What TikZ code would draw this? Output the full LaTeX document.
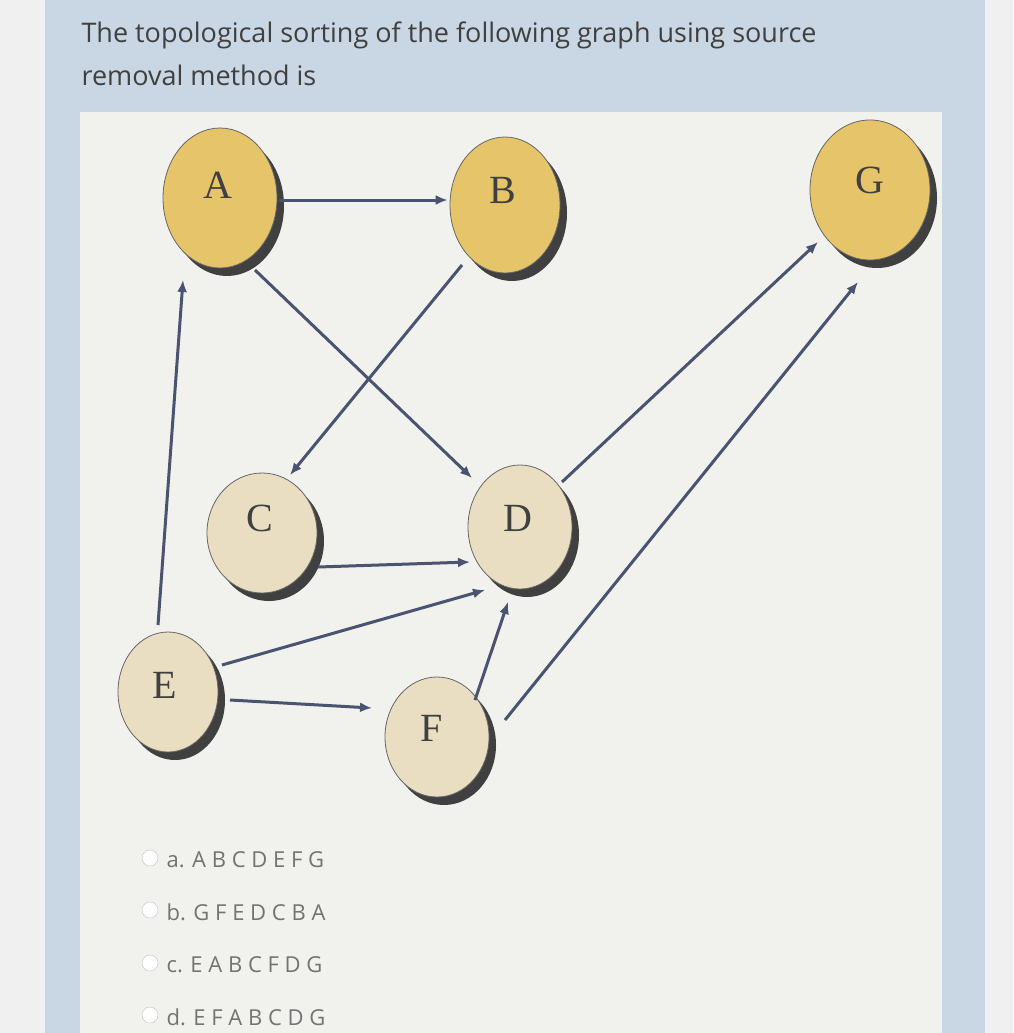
\documentclass[tikz,border=0pt]{standalone}
\usepackage{fontspec}
\setsansfont{Open Sans}
\setmainfont{Liberation Serif}
\begin{document}
\begin{tikzpicture}[x=1pt,y=-1pt,
  gold/.style={ellipse, fill=gold, draw=black!60, line width=0.8pt},
  beige/.style={ellipse, fill=beige, draw=black!60, line width=0.8pt},
  edge/.style={draw=edgec, line width=3pt, -{Latex[length=12pt,width=10pt]}},
  lab/.style={font=\fontsize{40}{40}\selectfont, text=black!75},
  opt/.style={font=\sffamily\fontsize{22}{22}\selectfont, text=black!55, anchor=west},
  radio/.style={circle, draw=black!25, fill=white, minimum size=16pt, inner sep=0pt}]
\definecolor{gold}{HTML}{E6C46A}
\definecolor{beige}{HTML}{E9DDC2}
\definecolor{edgec}{HTML}{4A5470}
\definecolor{frame}{HTML}{C9D6E3}
\definecolor{panel}{HTML}{F1F1EE}
\usetikzlibrary{shapes.geometric,arrows.meta}
\useasboundingbox (0,0) rectangle (1013,1033);
\fill[black!6] (0,0) rectangle (1013,1033);
\fill[frame] (45,0) rectangle (985,1033);
\fill[panel] (80,112) rectangle (942,1033);
\node[font=\sffamily\fontsize{27}{27}\selectfont, text=black!75, anchor=west] (t1) at (78,35) {The topological sorting of the following graph using source};
\node[font=\sffamily\fontsize{27}{27}\selectfont, text=black!75, anchor=west] (t2) at (78,75) {removal method is};
% shadows
\foreach \x/\y/\a/\b in {220/198/57/70,505/205/55/68,870/190/60/70,262/533/55/60,520/527/52/62,168/692/50/60,437/737/52/60}
  \fill[black!75] (\x+7,\y+8) ellipse ({\a} and {\b});
\node[gold, minimum width=114pt, minimum height=140pt] (A) at (220,198) {};
\node[gold, minimum width=110pt, minimum height=136pt] (B) at (505,205) {};
\node[gold, minimum width=120pt, minimum height=140pt] (G) at (870,190) {};
\node[beige, minimum width=110pt, minimum height=120pt] (C) at (262,533) {};
\node[beige, minimum width=104pt, minimum height=124pt] (D) at (520,527) {};
\node[beige, minimum width=100pt, minimum height=120pt] (E) at (168,692) {};
\node[beige, minimum width=104pt, minimum height=120pt] (F) at (437,737) {};
\node[lab] (la) at (218,185) {A};
\node[lab] (lb) at (503,190) {B};
\node[lab] (lg) at (870,180) {G};
\node[lab] (lc) at (260,518) {C};
\node[lab] (ld) at (518,518) {D};
\node[lab] (le) at (165,685) {E};
\node[lab] (lf) at (432,728) {F};
\draw[edge] (A.east) ++(2,2) -- ([xshift=-2pt]B.west |- 0,200);
\draw[edge] (A) ++(35,72) -- ([shift={(-48,-49)}]D.center);
\draw[edge] (B) ++(-43,60) -- ([shift={(28,-58)}]C.center);
\draw[edge] (C) ++(56,34) -- ([shift={(-50,35)}]D.center);
\draw[edge] (E) ++(-10,-67) -- ([shift={(-37,82)}]A.center);
\draw[edge] (E) ++(54,-27) -- ([shift={(-35,63)}]D.center);
\draw[edge] (E) ++(62,8) -- ([shift={(-65,-29)}]F.center);
\draw[edge] (F) ++(38,-37) -- ([shift={(-12,75)}]D.center);
\draw[edge] (D) ++(42,-45) -- ([shift={(-52,52)}]G.center);
\draw[edge] (F) ++(68,-17) -- ([shift={(-12,92)}]G.center);
\node[radio] (r1) at (150,858) {};
\node[radio] (r2) at (150,910) {};
\node[radio] (r3) at (150,963) {};
\node[radio] (r4) at (150,1015) {};
\node[opt] (o1) at (163,860) {a. A B C D E F G};
\node[opt] (o2) at (163,912) {b. G F E D C B A};
\node[opt] (o3) at (163,965) {c. E A B C F D G};
\node[opt] (o4) at (163,1017) {d. E F A B C D G};
\end{tikzpicture}
\end{document}
